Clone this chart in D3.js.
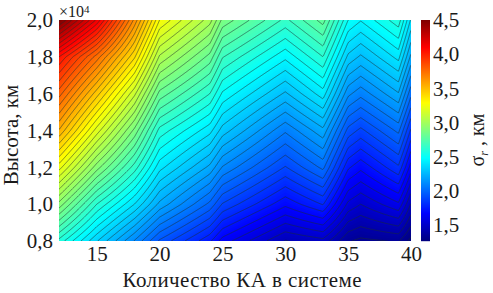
<!DOCTYPE html>
<html>
<head>
<meta charset="utf-8">
<script src="https://cdn.jsdelivr.net/npm/d3@7"></script>
<style>
html, body { margin: 0; padding: 0; background: #fff; }
svg text { font-family: "Liberation Serif", "DejaVu Serif", serif !important; fill: #1a1a1a; }
</style>
</head>
<body>
<div id="svg-area"></div>
<script>
// Data for the chart
var satCounts = [12, 15, 18, 20, 24, 25, 30, 33, 35, 36, 39, 40];
var heights = [2.0, 1.8, 1.6, 1.4, 1.2, 1.0, 0.8];
var sigma = [
  [4.50, 4.15, 3.65, 3.28, 3.03, 2.88, 2.66, 2.81, 2.51, 2.46, 2.60, 2.39],
  [4.05, 3.75, 3.40, 3.05, 2.82, 2.68, 2.47, 2.62, 2.33, 2.28, 2.42, 2.22],
  [3.80, 3.47, 3.13, 2.82, 2.62, 2.50, 2.28, 2.43, 2.14, 2.09, 2.23, 2.03],
  [3.55, 3.20, 2.88, 2.60, 2.42, 2.32, 2.08, 2.22, 1.94, 1.89, 2.03, 1.84],
  [3.25, 2.92, 2.65, 2.42, 2.22, 2.12, 1.90, 2.03, 1.75, 1.70, 1.84, 1.66],
  [2.93, 2.62, 2.40, 2.22, 2.00, 1.90, 1.70, 1.80, 1.56, 1.52, 1.62, 1.46],
  [2.60, 2.35, 2.12, 1.95, 1.75, 1.66, 1.46, 1.50, 1.36, 1.34, 1.36, 1.28]
];
var xTicks = [15, 20, 25, 30, 35, 40];
var yTicks = [0.8, 1.0, 1.2, 1.4, 1.6, 1.8, 2.0];
var barTicks = [1.5, 2.0, 2.5, 3.0, 3.5, 4.0, 4.5];
var jet = ["#00007f", "#0000ff", "#007fff", "#00ffff", "#7fff7f", "#ffff00", "#ff7f00", "#ff0000", "#7f0000"];

var width = 493, height = 293;
var margin = { top: 20, left: 59, bottom: 52, right: 82 };
var w = width - margin.left - margin.right;
var h = height - margin.top - margin.bottom;
var pad = 3;

var svg = d3.select("#svg-area").append("svg")
  .attr("width", width)
  .attr("height", height)
  .style("display", "block");

var x = d3.scaleLinear().domain([12, 40]).range([0, w]);
var y = d3.scaleLinear().domain([0.8, 2.0]).range([h, 0]);
var zMin = 1.27, zMax = 4.5;

var color = d3.scaleLinear()
  .domain(d3.range(jet.length).map(function(i) { return zMin + (zMax - zMin) * i / (jet.length - 1); }))
  .range(jet)
  .clamp(true);

// fractional index into the data grid, for painting the field pixel by pixel
var ix = d3.scaleLinear().domain(satCounts).range(d3.range(satCounts.length)).clamp(true);
var iy = d3.scaleLinear().domain(heights).range(d3.range(heights.length)).clamp(true);

function field(c, a) {
  var fx = ix(c), fy = iy(a);
  var i0 = Math.min(Math.floor(fx), satCounts.length - 2);
  var j0 = Math.min(Math.floor(fy), heights.length - 2);
  var tx = fx - i0, ty = fy - j0;
  return (1 - ty) * ((1 - tx) * sigma[j0][i0] + tx * sigma[j0][i0 + 1]) +
    ty * ((1 - tx) * sigma[j0 + 1][i0] + tx * sigma[j0 + 1][i0 + 1]);
}

// the grid runs a little past the plot so the contour outline falls outside the clip
var gw = w + 2 * pad, gh = h + 2 * pad;
var grid = [];
for (var j = 0; j < gh; j++) {
  for (var i = 0; i < gw; i++) {
    grid.push(field(x.invert(i - pad + 0.5), y.invert(j - pad + 0.5)));
  }
}

svg.append("clipPath").attr("id", "plot-clip")
  .append("rect").attr("width", w).attr("height", h);

var g = svg.append("g")
  .attr("transform", "translate(" + margin.left + "," + margin.top + ")")
  .attr("clip-path", "url(#plot-clip)")
  .append("g")
  .attr("transform", "translate(" + (-pad) + "," + (-pad) + ")");
var path = d3.geoPath();

// smooth shading made from many thin bands
var shadeLevels = d3.range(0, 200).map(function(i) { return zMin - 0.01 + (zMax - zMin + 0.02) * i / 200; });
g.append("g")
  .selectAll("path")
  .data(d3.contours().size([gw, gh]).thresholds(shadeLevels)(grid))
  .join("path")
  .attr("d", path)
  .attr("fill", function(d) { return color(d.value); })
  .attr("stroke", function(d) { return color(d.value); })
  .attr("stroke-width", 0.3);

// contour lines
var lineLevels = d3.range(1.3, 4.5, 0.055);
g.append("g")
  .selectAll("path")
  .data(d3.contours().size([gw, gh]).thresholds(lineLevels)(grid))
  .join("path")
  .attr("d", path)
  .attr("fill", "none")
  .attr("stroke", "#1c2f2f")
  .attr("stroke-opacity", 0.7)
  .attr("stroke-width", 0.8);

var commaFmt = function(d) { return d3.format(".1f")(d).replace(".", ","); };

var xAxis = d3.axisBottom(x).tickValues(xTicks).tickSize(0).tickPadding(5);
var gx = svg.append("g")
  .attr("transform", "translate(" + margin.left + "," + (margin.top + h) + ")")
  .call(xAxis);
gx.select(".domain").remove();
gx.selectAll("text").style("font-size", "21px");

var yAxis = d3.axisLeft(y).tickValues(yTicks).tickFormat(commaFmt).tickSize(0).tickPadding(6);
var gy = svg.append("g")
  .attr("transform", "translate(" + margin.left + "," + margin.top + ")")
  .call(yAxis);
gy.select(".domain").remove();
gy.selectAll("text").style("font-size", "21px");

svg.append("text")
  .attr("x", 242).attr("y", 287)
  .attr("text-anchor", "middle")
  .attr("textLength", 239)
  .style("font-size", "21px")
  .text("Количество КА в системе");

svg.append("text")
  .attr("transform", "translate(18,135) rotate(-90)")
  .attr("text-anchor", "middle")
  .style("font-size", "21px")
  .text("Высота, км");

var expo = svg.append("text").attr("x", 59).attr("y", 17).style("font-size", "16px");
expo.append("tspan").text("×10");
expo.append("tspan").attr("dy", -4).style("font-size", "11px").text("4");

// colour bar
var barX = 421, barW = 9;
var barScale = d3.scaleLinear().domain([zMin, zMax]).range([margin.top + h, margin.top]);
svg.append("g")
  .selectAll("rect")
  .data(d3.range(0, h))
  .join("rect")
  .attr("x", barX)
  .attr("width", barW)
  .attr("y", function(d) { return margin.top + d; })
  .attr("height", 1.2)
  .attr("fill", function(d) { return color(barScale.invert(margin.top + d + 0.5)); });

var barAxis = d3.axisRight(barScale).tickValues(barTicks).tickFormat(commaFmt).tickSize(0).tickPadding(0);
var gb = svg.append("g")
  .attr("transform", "translate(" + (barX + barW + 3) + ",0)")
  .call(barAxis);
gb.select(".domain").remove();
gb.selectAll("text").style("font-size", "21px");

var sig = svg.append("text")
  .attr("transform", "translate(484,140) rotate(-90)")
  .attr("text-anchor", "middle")
  .style("font-size", "20px");
sig.append("tspan").text("σ");
sig.append("tspan").attr("dy", 4).style("font-size", "12px").style("font-style", "italic").text("r");
sig.append("tspan").attr("dy", -4).text(" , км");
</script>
</body>
</html>
